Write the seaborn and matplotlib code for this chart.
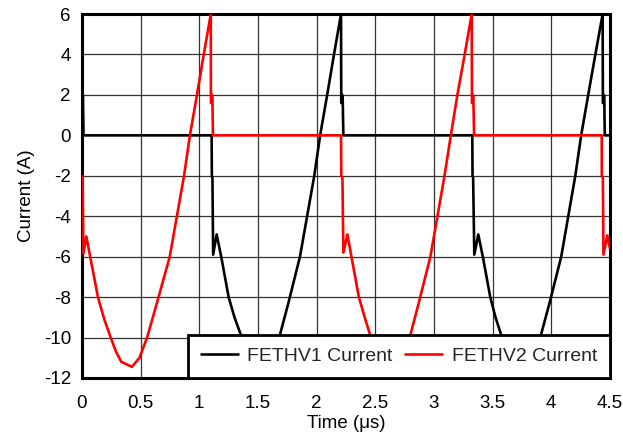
import matplotlib
matplotlib.use("Agg")
import matplotlib.pyplot as plt
import seaborn as sns
import pandas as pd

# FETHV1 drain current (A) versus time (us)
fethv1_time = [0.000, 0.004, 0.008, 0.013, 1.105, 1.107, 1.112, 1.118, 1.148, 1.190,
               1.250, 1.300, 1.353, 1.400, 1.445, 1.535, 1.600, 1.660, 1.688, 1.759,
               1.858, 1.980, 2.030, 2.090, 2.148, 2.208, 2.210, 2.215, 2.218, 2.222,
               2.228, 3.327, 3.329, 3.334, 3.344, 3.378, 3.420, 3.480, 3.525, 3.572,
               3.620, 3.665, 3.755, 3.820, 3.880, 3.913, 3.985, 4.085, 4.205, 4.255,
               4.315, 4.376, 4.438, 4.440, 4.445, 4.448, 4.452, 4.456, 4.500]
fethv1_current = [2.0, 1.6, 2.0, 0.0, 0.0, -2.0, -2.1, -5.9, -4.9, -6.1,
                  -8.0, -9.0, -9.85, -10.6, -11.2, -11.45, -11.0, -10.3, -9.85, -8.3,
                  -6.0, -2.0, 0.0, 2.0, 4.0, 6.0, 1.6, 1.6, 2.0, 1.9,
                  0.0, 0.0, -2.0, -2.1, -5.9, -4.9, -6.1, -8.0, -9.0, -9.85,
                  -10.6, -11.2, -11.45, -11.0, -10.3, -9.85, -8.3, -6.0, -2.0, 0.0,
                  2.0, 4.0, 6.0, 1.6, 1.6, 2.0, 1.9, 0.0, 0.0]

# FETHV2 drain current (A) versus time (us)
fethv2_time = [0.000, 0.006, 0.012, 0.037, 0.070, 0.136, 0.190, 0.245, 0.290, 0.335,
               0.426, 0.490, 0.555, 0.648, 0.748, 0.870, 0.920, 0.980, 1.038, 1.098,
               1.099, 1.104, 1.106, 1.112, 1.116, 2.208, 2.210, 2.220, 2.228, 2.262,
               2.300, 2.360, 2.410, 2.455, 2.500, 2.550, 2.640, 2.700, 2.760, 2.800,
               2.870, 2.970, 3.090, 3.144, 3.200, 3.262, 3.322, 3.324, 3.329, 3.332,
               3.336, 3.342, 4.430, 4.431, 4.440, 4.445, 4.478, 4.500]
fethv2_current = [-2.0, -2.2, -5.85, -5.0, -6.0, -8.0, -9.1, -10.0, -10.7, -11.2,
                  -11.45, -11.0, -10.0, -8.1, -6.0, -2.0, 0.0, 2.0, 4.0, 6.0,
                  1.6, 1.6, 2.0, 1.9, 0.0, 0.0, -2.0, -2.1, -5.8, -4.9,
                  -6.1, -8.0, -9.0, -9.85, -10.6, -11.2, -11.45, -11.0, -10.3, -9.85,
                  -8.3, -6.0, -2.0, 0.0, 2.0, 4.0, 6.0, 1.6, 1.6, 2.0,
                  1.9, 0.0, 0.0, -2.0, -2.1, -5.9, -4.95, -5.6]

series_names = ["FETHV1 Current", "FETHV2 Current"]
x_ticks = [0, 0.5, 1, 1.5, 2, 2.5, 3, 3.5, 4, 4.5]
x_tick_labels = ["0", "0.5", "1", "1.5", "2", "2.5", "3", "3.5", "4", "4.5"]
y_ticks = [-12, -10, -8, -6, -4, -2, 0, 2, 4, 6]

df = pd.concat([
    pd.DataFrame({"Time": fethv1_time, "Current": fethv1_current, "Signal": series_names[0]}),
    pd.DataFrame({"Time": fethv2_time, "Current": fethv2_current, "Signal": series_names[1]}),
], ignore_index=True)

sns.set_theme(style="white")
plt.rcParams["font.family"] = ["Liberation Sans", "DejaVu Sans"]
plt.rcParams["axes.unicode_minus"] = False

FS = 13.5
LEG_FS = 14

fig = plt.figure(figsize=(6.23, 4.38), dpi=100)
ax = fig.add_axes([0.1316, 0.137, 0.979 - 0.1316, 0.968 - 0.137])

sns.lineplot(data=df, x="Time", y="Current", hue="Signal",
             palette={series_names[0]: "#000000", series_names[1]: "#ff0000"},
             estimator=None, sort=False, linewidth=1.9, ax=ax, zorder=3)

ax.set_xlim(0, 4.5)
ax.set_ylim(-12, 6)
ax.set_xticks(x_ticks)
ax.set_xticklabels(x_tick_labels)
ax.set_yticks(y_ticks)
ax.grid(True, color="#000000", linewidth=0.9, alpha=0.8)
ax.set_axisbelow(True)
ax.tick_params(axis="both", which="both", length=0, labelsize=FS, colors="#000000")
ax.tick_params(axis="x", pad=12.5)
ax.tick_params(axis="y", pad=8)
for side in ax.spines.values():
    side.set_visible(True)
    side.set_color("#000000")
    side.set_linewidth(2.2)

ax.set_xlabel("Time (\u03bcs)", fontsize=FS, color="#000000", labelpad=2)
ax.set_ylabel("Current (A)", fontsize=FS, color="#000000", labelpad=6)

leg = ax.legend(loc="lower right", ncol=2, fontsize=LEG_FS, frameon=True, fancybox=False,
                borderaxespad=0.0, handlelength=1.9, columnspacing=0.62,
                handletextpad=0.51, borderpad=0.66)
leg.get_frame().set_edgecolor("#000000")
leg.get_frame().set_linewidth(2.0)
leg.get_frame().set_facecolor("#ffffff")
leg.get_frame().set_alpha(1.0)
leg.set_title(None)
leg.set_zorder(5)

fig.savefig("out.png", dpi=100)
